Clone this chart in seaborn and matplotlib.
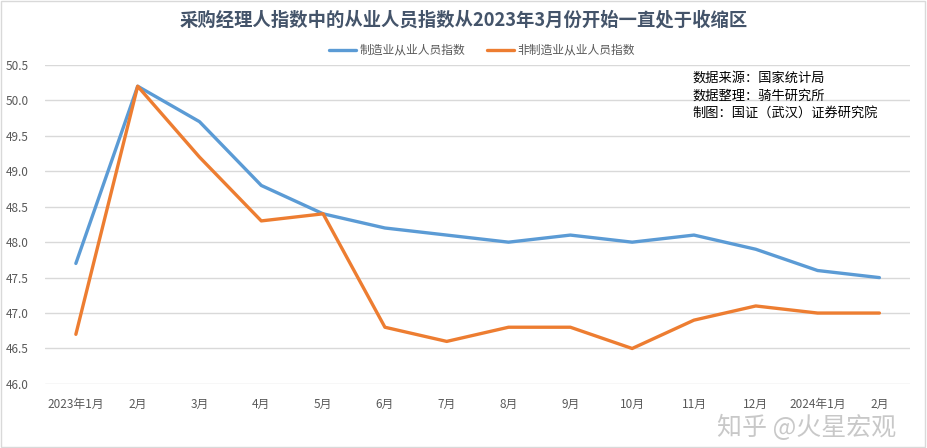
import pandas as pd
import matplotlib.pyplot as plt
import seaborn as sns
from matplotlib.lines import Line2D

# --- data ---
months = ['2023年1月', '2月', '3月', '4月', '5月', '6月', '7月', '8月', '9月',
          '10月', '11月', '12月', '2024年1月', '2月']
manufacturing = [47.7, 50.2, 49.7, 48.8, 48.4, 48.2, 48.1, 48.0, 48.1, 48.0, 48.1, 47.9, 47.6, 47.5]
non_manufacturing = [46.7, 50.2, 49.2, 48.3, 48.4, 46.8, 46.6, 46.8, 46.8, 46.5, 46.9, 47.1, 47.0, 47.0]
series_names = ['制造业从业人员指数', '非制造业从业人员指数']
y_ticks = [46.0, 46.5, 47.0, 47.5, 48.0, 48.5, 49.0, 49.5, 50.0, 50.5]

df = pd.DataFrame({'x': range(len(months)),
                   series_names[0]: manufacturing,
                   series_names[1]: non_manufacturing})
df_long = df.melt(id_vars='x', var_name='series', value_name='value')

sns.set_style('white')
plt.rcParams['font.family'] = ['Noto Sans CJK SC', 'DejaVu Sans']

fig = plt.figure(figsize=(9.27, 4.48), dpi=100)
ax = fig.add_axes([0.0485, 0.143, 0.9335, 0.712])

sns.lineplot(data=df_long, x='x', y='value', hue='series',
             palette=['#5B9BD5', '#ED7D31'], linewidth=2.4, ax=ax, legend=False)

ax.set_xlim(-0.5, len(months) - 0.5)
ax.set_ylim(46.0, 50.5)
ax.set_yticks(y_ticks)
ax.set_yticklabels([f'{v:.1f}' for v in y_ticks])
ax.set_xticks(range(len(months)))
ax.set_xticklabels(months)
ax.tick_params(axis='both', length=0, labelsize=8.5, colors='#595959')
ax.tick_params(axis='x', pad=10)
ax.tick_params(axis='y', pad=12)
ax.grid(axis='y', color='#D9D9D9', linewidth=1)
ax.set_xlabel('')
ax.set_ylabel('')
for s in ax.spines.values():
    s.set_visible(False)

handles = [Line2D([0], [0], color='#5B9BD5', lw=2.4), Line2D([0], [0], color='#ED7D31', lw=2.4)]
fig.legend(handles, series_names, loc='center', bbox_to_anchor=(0.52, 0.888), ncol=2,
           frameon=False, fontsize=8.5, labelcolor='#595959', handlelength=2.3,
           columnspacing=1.8, handletextpad=0.3)

fig.text(0.5, 0.955, '采购经理人指数中的从业人员指数从2023年3月份开始一直处于收缩区',
         ha='center', va='center', fontsize=13.2, fontweight='bold', color='#44546A')

notes = '数据来源：国家统计局\n数据整理：骑牛研究所\n制图：国证（武汉）证券研究院'
fig.text(0.747, 0.84, notes, ha='left', va='top', fontsize=9.5, color='black', linespacing=1.45)

# watermark, pushed just below the tick labels
fig.text(0.87, 0.045, '知乎 @火星宏观', ha='center', va='center', fontsize=18,
         color='#BBBBBB', alpha=0.8)

# thin border around the picture
fig.patches.append(plt.Rectangle((0.001, 0.002), 0.997, 0.996, transform=fig.transFigure,
                                 fill=False, edgecolor='#D9D9D9', linewidth=1))

fig.savefig('out.png', dpi=100)
